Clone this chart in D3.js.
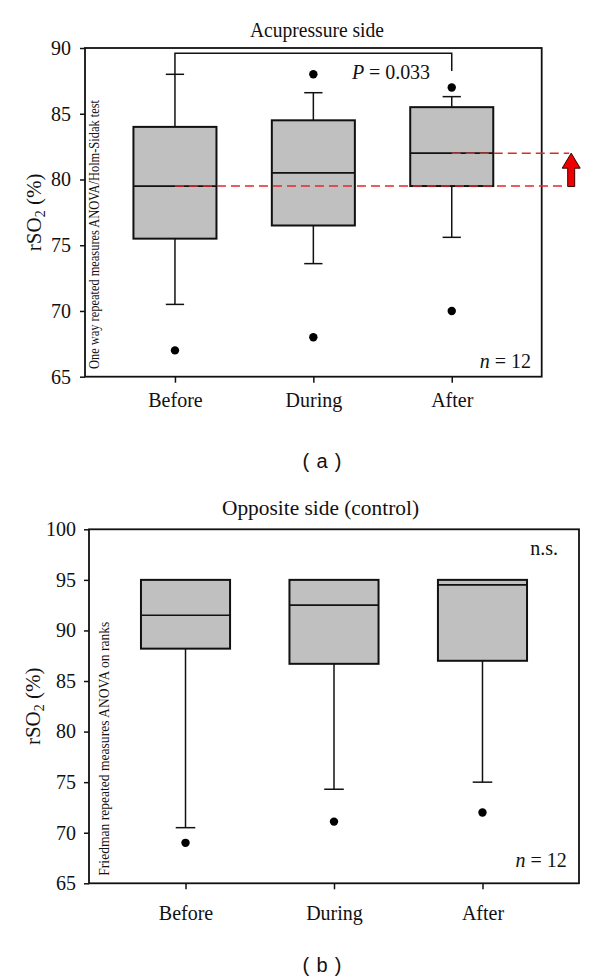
<!DOCTYPE html>
<html>
<head>
<meta charset="utf-8">
<script src="https://cdn.jsdelivr.net/npm/d3@7"></script>
<style>
  html, body { margin: 0; padding: 0; background: #fff; }
  svg { display: block; }
  text { font-family: "Liberation Serif", "Times New Roman", serif; fill: #111; }
</style>
</head>
<body>
<svg id="chart" width="600" height="978"></svg>
<script>
// ---------- DATA ----------
const categories = ["Before", "During", "After"];

// Panel (a) Acupressure side
const aWhiskerLow  = [70.5, 73.6, 75.6];
const aQ1          = [75.5, 76.5, 79.5];
const aMedian      = [79.5, 80.5, 82.0];
const aQ3          = [84.0, 84.5, 85.5];
const aWhiskerHigh = [88.0, 86.6, 86.3];
const aOutliers    = [[67], [68, 88], [70, 87]];
const aTicks       = [65, 70, 75, 80, 85, 90];

// Panel (b) Opposite side (control)
const bWhiskerLow  = [70.5, 74.3, 75.0];
const bQ1          = [88.2, 86.7, 87.0];
const bMedian      = [91.5, 92.5, 94.5];
const bQ3          = [95.0, 95.0, 95.0];
const bWhiskerHigh = [95.0, 95.0, 95.0];
const bOutliers    = [[69], [71.1], [72]];
const bTicks       = [65, 70, 75, 80, 85, 90, 95, 100];

// Annotations
const aBracketLevel = 89.6;
const aBracketRightEnd = 88.25;
const pText = "0.033";
const medianShift = [79.5, 82.0]; // Before median -> After median

const svg = d3.select("#chart");
const FS = 20;

function panel(opts) {
  const { left, top, width, height, domain, ticks, stats, title, titleX, titleY, titleLen,
          testText, testX, testY, testLen, nRight, nUp, yLabelX, tickPad, xLabelPad } = opts;
  const g = svg.append("g").attr("transform", `translate(${left},${top})`);
  const x = d3.scalePoint().domain(categories).range([0, width]).padding(0.65);
  const y = d3.scaleLinear().domain(domain).range([height, 0]);
  const bw = x.step() * 0.6;
  const cap = bw * 0.22;

  const rows = categories.map((c, i) => ({
    c, lo: stats.lo[i], q1: stats.q1[i], med: stats.med[i], q3: stats.q3[i], hi: stats.hi[i], out: stats.out[i]
  }));
  const bg = g.selectAll("g.box").data(rows).join("g").attr("class", "box");
  bg.append("line")
    .attr("x1", d => x(d.c)).attr("x2", d => x(d.c))
    .attr("y1", d => y(d.q1)).attr("y2", d => y(d.lo))
    .attr("stroke", "#111").attr("stroke-width", 1.5);
  bg.append("line")
    .attr("x1", d => x(d.c) - cap / 2).attr("x2", d => x(d.c) + cap / 2)
    .attr("y1", d => y(d.lo)).attr("y2", d => y(d.lo))
    .attr("stroke", "#111").attr("stroke-width", 1.5);
  bg.filter(d => d.hi > d.q3).append("line")
    .attr("x1", d => x(d.c)).attr("x2", d => x(d.c))
    .attr("y1", d => y(d.q3)).attr("y2", d => y(d.hi))
    .attr("stroke", "#111").attr("stroke-width", 1.5);
  bg.filter(d => d.hi > d.q3).append("line")
    .attr("x1", d => x(d.c) - cap / 2).attr("x2", d => x(d.c) + cap / 2)
    .attr("y1", d => y(d.hi)).attr("y2", d => y(d.hi))
    .attr("stroke", "#111").attr("stroke-width", 1.5);
  bg.append("rect")
    .attr("x", d => x(d.c) - bw / 2).attr("width", bw)
    .attr("y", d => y(d.q3)).attr("height", d => y(d.q1) - y(d.q3))
    .attr("fill", "#c0c0c0").attr("stroke", "#111").attr("stroke-width", 2);
  bg.append("line")
    .attr("x1", d => x(d.c) - bw / 2).attr("x2", d => x(d.c) + bw / 2)
    .attr("y1", d => y(d.med)).attr("y2", d => y(d.med))
    .attr("stroke", "#111").attr("stroke-width", 1.7);
  bg.selectAll("circle").data(d => d.out.map(v => ({ c: d.c, v }))).join("circle")
    .attr("cx", d => x(d.c)).attr("cy", d => y(d.v)).attr("r", 4.2)
    .attr("fill", "#000");

  const ya = g.append("g").call(d3.axisLeft(y).tickValues(ticks).tickSize(5).tickSizeOuter(0).tickPadding(tickPad));
  ya.select(".domain").remove();
  ya.selectAll("line").attr("stroke", "#111").attr("stroke-width", 1.5);
  ya.selectAll("text").attr("font-size", FS).attr("font-family", "Liberation Serif, serif").attr("fill", "#111");
  const xa = g.append("g").attr("transform", `translate(0,${height})`)
    .call(d3.axisBottom(x).tickSize(6).tickSizeOuter(0).tickPadding(xLabelPad));
  xa.select(".domain").remove();
  xa.selectAll("line").attr("stroke", "#111").attr("stroke-width", 1.5);
  xa.selectAll("text").attr("font-size", FS).attr("font-family", "Liberation Serif, serif").attr("fill", "#111");

  g.append("rect").attr("x", 0).attr("y", 0).attr("width", width).attr("height", height)
    .attr("fill", "none").attr("stroke", "#111").attr("stroke-width", 1.8);

  svg.append("text").attr("x", titleX).attr("y", titleY).attr("text-anchor", "middle")
    .attr("font-size", FS).attr("textLength", titleLen).attr("lengthAdjust", "spacingAndGlyphs").text(title);

  const yl = svg.append("text")
    .attr("transform", `translate(${yLabelX},${top + height / 2}) rotate(-90)`)
    .attr("text-anchor", "middle").attr("font-size", 21);
  yl.append("tspan").text("rSO");
  yl.append("tspan").attr("font-size", 14).attr("dy", 4).text("2");
  yl.append("tspan").attr("dy", -4).text(" (%)");

  svg.append("text")
    .attr("transform", `translate(${testX},${testY}) rotate(-90)`)
    .attr("font-size", 14).attr("textLength", testLen).attr("lengthAdjust", "spacingAndGlyphs")
    .text(testText);

  const nt = g.append("text").attr("x", width - nRight).attr("y", height - nUp)
    .attr("text-anchor", "end").attr("font-size", FS);
  nt.append("tspan").attr("font-style", "italic").text("n");
  nt.append("tspan").text(" = 12");

  return { g, x, y, width, height, left, top };
}

// Panel (a)
const A = panel({
  left: 85, top: 48, width: 456.7, height: 328.7, domain: [65, 90], ticks: aTicks,
  stats: { lo: aWhiskerLow, q1: aQ1, med: aMedian, q3: aQ3, hi: aWhiskerHigh, out: aOutliers },
  title: "Acupressure side", titleX: 317, titleY: 37, titleLen: 134,
  testText: "One way repeated measures ANOVA/Holm-Sidak test", testX: 98.5, testY: 369, testLen: 269,
  nRight: 10.7, nUp: 8.4, yLabelX: 41, tickPad: 9, xLabelPad: 10
});

{
  const { g, x, y } = A;
  const xl = x("Before"), xr = x("After");
  g.append("path")
    .attr("d", `M${xl},${y(aWhiskerHigh[0])}V${y(aBracketLevel)}H${xr}V${y(aBracketRightEnd)}`)
    .attr("fill", "none").attr("stroke", "#111").attr("stroke-width", 1.5);
  const pt = g.append("text").attr("x", 352 - A.left).attr("y", 79 - A.top).attr("font-size", FS)
    .attr("textLength", 78).attr("lengthAdjust", "spacing");
  pt.append("tspan").attr("font-style", "italic").text("P");
  pt.append("tspan").text(" = " + pText);

  const red = "#e02a2a";
  g.append("line").attr("x1", x("Before")).attr("x2", A.width + 25)
    .attr("y1", y(medianShift[0])).attr("y2", y(medianShift[0]))
    .attr("stroke", red).attr("stroke-width", 1.5).attr("stroke-dasharray", "9,5");
  g.append("line").attr("x1", x("After")).attr("x2", A.width + 27.5)
    .attr("y1", y(medianShift[1])).attr("y2", y(medianShift[1]))
    .attr("stroke", red).attr("stroke-width", 1.5).attr("stroke-dasharray", "9,5");
  const ax = A.width + 29.5;
  const yb = y(medianShift[0]) + 0.5, yt = y(medianShift[1]);
  const hb = yt + 15;
  g.append("path")
    .attr("d", `M${ax - 3.5},${yb}V${hb}H${ax - 9}L${ax},${yt}L${ax + 9},${hb}H${ax + 3.5}V${yb}Z`)
    .attr("fill", "#ee0000").attr("stroke", "#3a0000").attr("stroke-width", 1);
}

svg.append("text").attr("x", 322).attr("y", 468).attr("text-anchor", "middle")
  .attr("font-size", 20).attr("textLength", 39).attr("lengthAdjust", "spacing")
  .style("font-family", "'Liberation Sans', Arial, sans-serif").text("( a )");

// Panel (b)
const B = panel({
  left: 89, top: 529.3, width: 490, height: 354, domain: [65, 100], ticks: bTicks,
  stats: { lo: bWhiskerLow, q1: bQ1, med: bMedian, q3: bQ3, hi: bWhiskerHigh, out: bOutliers },
  title: "Opposite side (control)", titleX: 320.5, titleY: 515, titleLen: 197,
  testText: "Friedman repeated measures ANOVA on ranks", testX: 109, testY: 875.7, testLen: 254,
  nRight: 12.3, nUp: 16.6, yLabelX: 40, tickPad: 8, xLabelPad: 16.5
});
B.g.append("text").attr("x", 558 - B.left).attr("y", 555 - B.top).attr("text-anchor", "end")
  .attr("font-size", FS).text("n.s.");

svg.append("text").attr("x", 322).attr("y", 972).attr("text-anchor", "middle")
  .attr("font-size", 20).attr("textLength", 39).attr("lengthAdjust", "spacing")
  .style("font-family", "'Liberation Sans', Arial, sans-serif").text("( b )");
</script>
</body>
</html>
